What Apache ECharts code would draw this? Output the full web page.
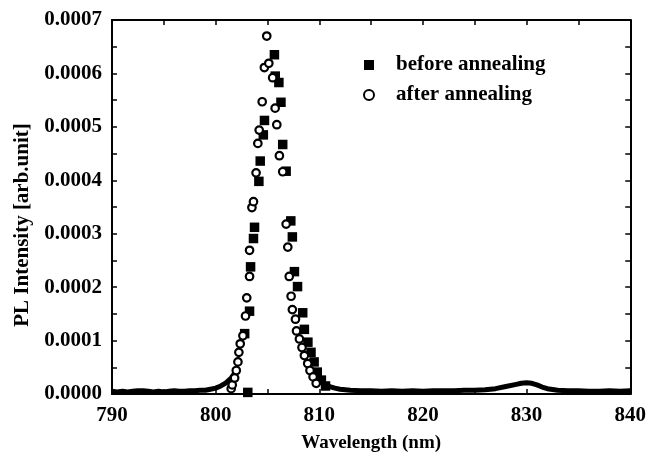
<!DOCTYPE html>
<html>
<head>
<meta charset="utf-8">
<script src="https://cdn.jsdelivr.net/npm/echarts@6/dist/echarts.min.js"></script>
<style>
html,body{margin:0;padding:0;background:#fff;}
#chart{width:649px;height:458px;}
</style>
</head>
<body>
<div id="chart"></div>
<script>
// Wavelength axis ticks (nm) and intensity ticks
const wavelengthTicks = [790, 800, 810, 820, 830, 840];
const intensityTicks = [0, 0.0001, 0.0002, 0.0003, 0.0004, 0.0005, 0.0006, 0.0007];

// before annealing (filled squares)
const beforeWavelength = [803.1, 802.8, 803.27, 803.37, 803.65, 803.75, 804.17, 804.3, 804.6, 804.71,
  805.67, 805.75, 806.1, 806.3, 806.47, 806.8, 807.25, 807.4, 807.6, 807.9,
  808.4, 808.56, 808.9, 809.2, 809.5, 809.8, 810.2, 810.6];
const beforeIntensity = [0.000003, 0.000113, 0.000155, 0.000238, 0.000291, 0.000312, 0.000398, 0.000436, 0.000485, 0.000512,
  0.000635, 0.000595, 0.000583, 0.000546, 0.000467, 0.000417, 0.000324, 0.000294, 0.000229, 0.000201,
  0.000152, 0.000121, 0.000097, 0.000078, 0.000060, 0.000041, 0.000026, 0.000015];

// after annealing (open circles)
const afterWavelength = [801.5, 801.6, 801.83, 801.99, 802.15, 802.24, 802.37, 802.63, 802.88, 803.0,
  803.27, 803.27, 803.5, 803.65, 803.9, 804.07, 804.2, 804.49, 804.7, 804.93,
  805.13, 805.5, 805.74, 805.9, 806.15, 806.47, 806.8, 806.96, 807.1, 807.28,
  807.4, 807.7, 807.8, 808.08, 808.33, 808.56, 808.88, 809.1, 809.4, 809.7];
const afterIntensity = [0.000010, 0.000017, 0.000030, 0.000044, 0.000060, 0.000078, 0.000094, 0.000109, 0.000146, 0.000180,
  0.000220, 0.000269, 0.000349, 0.000360, 0.000414, 0.000469, 0.000494, 0.000547, 0.000611, 0.000670,
  0.000619, 0.000592, 0.000535, 0.000504, 0.000446, 0.000416, 0.000318, 0.000275, 0.000220, 0.000183,
  0.000158, 0.000140, 0.000118, 0.000103, 0.000087, 0.000072, 0.000057, 0.000044, 0.000032, 0.000020];

// dense spectrum background band (null = gap under the peak)
const bandWavelength = [790, 790.5, 791, 791.5, 792, 792.5, 793, 793.5, 794, 794.5, 795, 795.5, 796, 796.5,
  797, 797.5, 798, 798.5, 799, 799.5, 800, 800.5, 801, 801.5, 801.8, 805,
  809.8, 810.2, 810.6, 811, 811.5, 812, 812.5, 813, 814, 815, 816, 817, 818, 819, 820,
  821, 822, 823, 824, 825, 826, 827, 828, 829, 829.5, 830, 830.5, 831, 831.5, 832, 833,
  834, 835, 836, 837, 838, 839, 840];
const bandIntensity = [0.000005, 0.000004, 0.000005, 0.000004, 0.000005, 0.000006, 0.000006, 0.000005, 0.000004, 0.000005, 0.000004, 0.000005, 0.000006, 0.000005,
  0.000005, 0.000006, 0.000006, 0.000007, 0.000007, 0.000009, 0.000011, 0.000015, 0.000021, 0.000030, 0.000038, null,
  0.000035, 0.000025, 0.000018, 0.000014, 0.000011, 0.000009, 0.000008, 0.000007, 0.000006, 0.000006, 0.000005, 0.000006, 0.000005, 0.000006, 0.000005,
  0.000006, 0.000006, 0.000006, 0.000007, 0.000007, 0.000008, 0.000010, 0.000014, 0.000018, 0.000020, 0.000021, 0.000020, 0.000017, 0.000013, 0.000010, 0.000007,
  0.000006, 0.000006, 0.000005, 0.000005, 0.000006, 0.000005, 0.000006];

const FONT = "'Liberation Serif', 'Times New Roman', serif";
const pairs = (xs, ys) => xs.map((x, i) => [x, ys[i] === null ? '-' : ys[i]]);

const chart = echarts.init(document.getElementById('chart'), null, {renderer: 'canvas'});

const axisCommon = {
  type: 'value',
  axisLine: {show: true, onZero: false, lineStyle: {color: '#000', width: 2}},
  axisTick: {show: true, inside: true, length: 5, lineStyle: {color: '#000', width: 1.5}},
  minorTick: {show: true, splitNumber: 2, length: 5, lineStyle: {color: '#000', width: 1.5}},
  splitLine: {show: false}
};

chart.setOption({
  animation: false,
  backgroundColor: '#fff',
  grid: {left: 112, right: 17, top: 20, bottom: 59, containLabel: false},
  legend: {
    data: ['before annealing', 'after annealing'],
    orient: 'vertical',
    left: 358,
    top: 49,
    itemWidth: 10,
    itemHeight: 10,
    itemGap: 8,
    selectedMode: false,
    textStyle: {fontFamily: FONT, fontSize: 21, fontWeight: 'bold', color: '#000', lineHeight: 22, padding: [0, 0, 0, 17]}
  },
  xAxis: [
    Object.assign({}, axisCommon, {
      position: 'bottom',
      min: wavelengthTicks[0],
      max: wavelengthTicks[wavelengthTicks.length - 1],
      interval: 10,
      name: 'Wavelength (nm)',
      nameLocation: 'middle',
      nameGap: 40,
      nameTextStyle: {fontFamily: FONT, fontSize: 19, fontWeight: 'bold', color: '#000'},
      axisLabel: {show: true, margin: 11, fontFamily: FONT, fontSize: 21, fontWeight: 'bold', color: '#000',
        formatter: v => String(v)}
    }),
    Object.assign({}, axisCommon, {
      position: 'top',
      min: wavelengthTicks[0],
      max: wavelengthTicks[wavelengthTicks.length - 1],
      interval: 10,
      axisLabel: {show: false}
    })
  ],
  yAxis: [
    Object.assign({}, axisCommon, {
      position: 'left',
      min: intensityTicks[0],
      max: intensityTicks[intensityTicks.length - 1],
      interval: 0.0001,
      name: 'PL Intensity [arb.unit]',
      nameLocation: 'middle',
      nameGap: 78,
      nameTextStyle: {fontFamily: FONT, fontSize: 21, fontWeight: 'bold', color: '#000', padding: [0, 36, 0, 0]},
      axisLabel: {show: true, margin: 10, fontFamily: FONT, fontSize: 21, fontWeight: 'bold', color: '#000',
        formatter: v => v.toFixed(4)}
    }),
    Object.assign({}, axisCommon, {
      position: 'right',
      min: intensityTicks[0],
      max: intensityTicks[intensityTicks.length - 1],
      interval: 0.0001,
      axisLabel: {show: false}
    })
  ],
  series: [
    {
      name: 'band',
      type: 'line',
      data: pairs(bandWavelength, bandIntensity),
      showSymbol: false,
      connectNulls: false,
      lineStyle: {color: '#000', width: 5},
      z: 1,
      silent: true
    },
    {
      name: 'before annealing',
      type: 'scatter',
      data: pairs(beforeWavelength, beforeIntensity),
      symbol: 'rect',
      symbolSize: 9.5,
      itemStyle: {color: '#000', opacity: 1},
      z: 2
    },
    {
      name: 'after annealing',
      type: 'scatter',
      data: pairs(afterWavelength, afterIntensity),
      symbol: 'circle',
      symbolSize: 7.5,
      itemStyle: {color: '#fff', borderColor: '#000', borderWidth: 2.2, opacity: 1},
      z: 3
    }
  ]
});
</script>
</body>
</html>
